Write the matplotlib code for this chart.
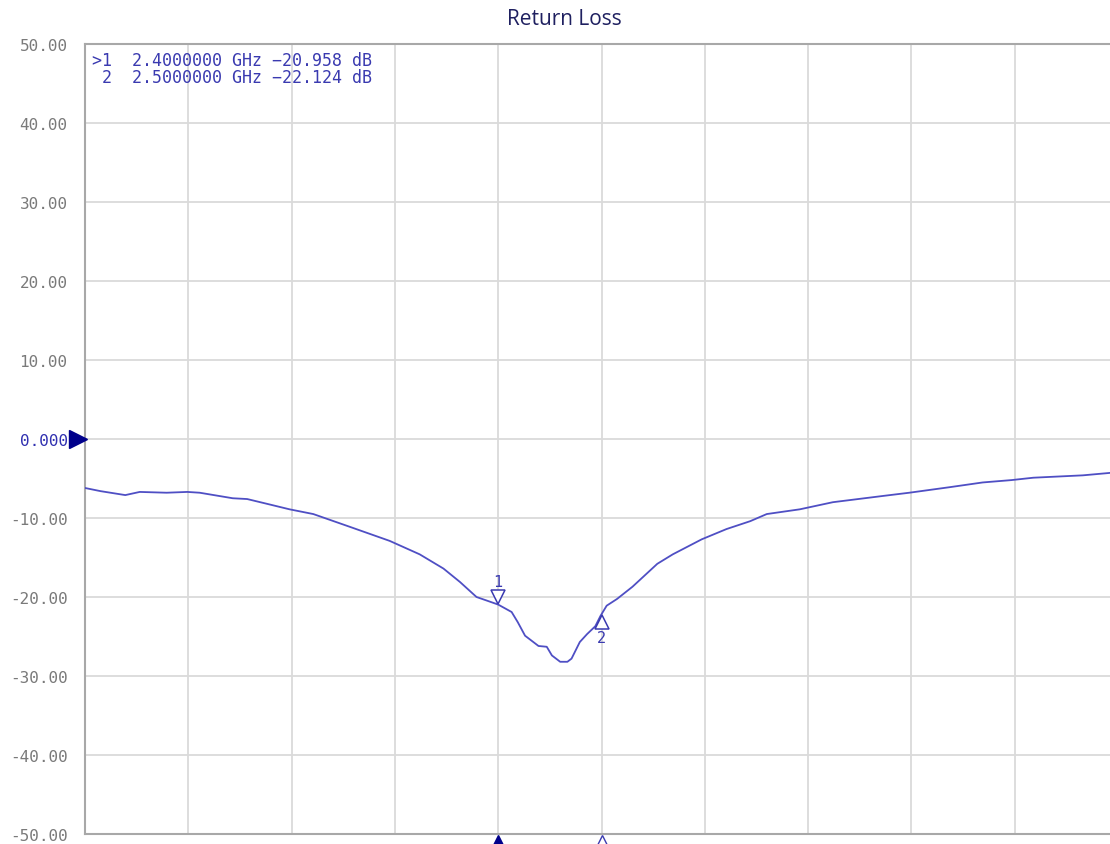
"""
Return loss trace (S11) recreated from a VNA screenshot
"""
import matplotlib
matplotlib.use("Agg")
import matplotlib.pyplot as plt
import numpy as np

# trace: frequency in GHz, magnitude in dB
freq_ghz = [2.000, 2.015, 2.039, 2.053, 2.079, 2.099, 2.111, 2.143, 2.157, 2.176,
            2.198, 2.221, 2.256, 2.295, 2.324, 2.347, 2.363, 2.379, 2.390, 2.400,
            2.413, 2.419, 2.426, 2.433, 2.439, 2.447, 2.452, 2.460, 2.467, 2.471,
            2.479, 2.486, 2.494, 2.499, 2.505, 2.515, 2.530, 2.554, 2.569, 2.597,
            2.621, 2.644, 2.660, 2.692, 2.724, 2.773, 2.798, 2.837, 2.869, 2.897,
            2.918, 2.966, 3.000]
return_loss_db = [-6.2, -6.6, -7.1, -6.7, -6.8, -6.7, -6.8, -7.5, -7.6, -8.2,
                  -8.9, -9.5, -11.1, -12.9, -14.6, -16.4, -18.1, -20.0, -20.5, -20.96,
                  -21.9, -23.2, -24.9, -25.6, -26.2, -26.3, -27.4, -28.2, -28.2, -27.8,
                  -25.7, -24.7, -23.7, -22.4, -21.1, -20.25, -18.7, -15.8, -14.6, -12.7,
                  -11.4, -10.4, -9.5, -8.9, -8.0, -7.2, -6.8, -6.1, -5.5, -5.2,
                  -4.9, -4.6, -4.2]

marker_ids = ["1", "2"]
marker_freq = [2.4, 2.5]
marker_db = [-20.958, -22.124]

y_ticks = [50, 40, 30, 20, 10, 0, -10, -20, -30, -40, -50]
y_labels = ["50.00", "40.00", "30.00", "20.00", "10.00", "0.000",
            "-10.00", "-20.00", "-30.00", "-40.00", "-50.00"]

trace_color = "#4f4fc4"
mark_color = "#3a3ab0"
ref_color = "#00008b"
mono = "DejaVu Sans Mono"

fig = plt.figure(figsize=(11.10, 8.45), dpi=100)
ax = fig.add_axes([85 / 1110, 1 - 835 / 845, 1033 / 1110, 790 / 845])

ax.plot(freq_ghz, return_loss_db, color=trace_color, lw=1.3, zorder=3)

ax.set_xlim(2.0, 3.0)
ax.set_ylim(-50, 50)
ax.set_xticks(np.linspace(2.0, 3.0, 11))
ax.set_xticklabels([])
ax.tick_params(axis="x", length=0)
ax.set_yticks(y_ticks)
ax.set_yticklabels(y_labels, family=mono, fontsize=11.5, color="#7a7a7a")
ax.tick_params(axis="y", length=0, pad=12.5)
for lbl in ax.get_yticklabels():
    if lbl.get_text() == "0.000":
        lbl.set_color("#3030b0")

ax.grid(True, color="#dadada", lw=1.3)
ax.set_axisbelow(True)
for side in ["left", "top", "bottom"]:
    ax.spines[side].set_color("#a8a8a8")
    ax.spines[side].set_linewidth(1.5)
ax.spines["right"].set_visible(False)

# reference level arrow at 0 dB, just left of the axis
ax.plot([-0.007], [0], marker=">", ms=13, color=ref_color, clip_on=False,
        transform=ax.get_yaxis_transform(), zorder=5)

# markers on the trace
ax.plot(marker_freq[0], marker_db[0] + 1.0, marker="v", ms=10, mfc="white",
        mec=mark_color, mew=1.1, zorder=4)
ax.text(marker_freq[0], marker_db[0] + 2.0, marker_ids[0], color=mark_color,
        ha="center", va="bottom", fontsize=11, family=mono)
ax.plot(marker_freq[1], marker_db[1] - 1.0, marker="^", ms=10, mfc="white",
        mec=mark_color, mew=1.1, zorder=4)
ax.text(marker_freq[1], marker_db[1] - 2.0, marker_ids[1], color=mark_color,
        ha="center", va="top", fontsize=11, family=mono)

# marker positions along the bottom edge
ax.plot(marker_freq[0], -51.0, marker="^", ms=10, color=ref_color, clip_on=False, zorder=5)
ax.plot(marker_freq[1], -51.0, marker="^", ms=10, mfc="white", mec=mark_color,
        mew=1.0, clip_on=False, zorder=5)

# marker readout (one text block)
readout = []
for i, (mid, f, d) in enumerate(zip(marker_ids, marker_freq, marker_db)):
    prefix = ">" if i == 0 else " "
    readout.append(f"{prefix}{mid}  {f:.7f} GHz {d:.3f} dB".replace("-", "\u2212"))
ax.text(0.007, 0.991, "\n".join(readout), transform=ax.transAxes, ha="left",
        va="top", family=mono, fontsize=12, color=mark_color, linespacing=0.95)

fig.text(0.508, 0.977, "Return Loss", ha="center", va="center",
         fontsize=15, color="#1f2060", family="Open Sans")

fig.savefig("out.png", dpi=100)
